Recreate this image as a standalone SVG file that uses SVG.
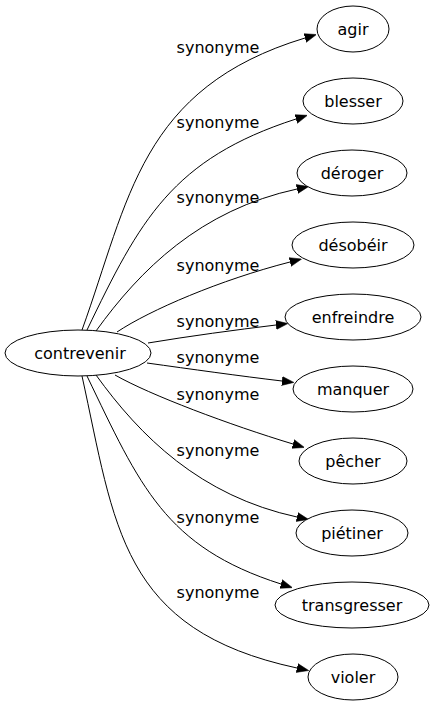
<svg xmlns="http://www.w3.org/2000/svg" width="434" height="707" viewBox="0 0 434 707">
<style>
.node ellipse{fill:#fff;stroke:#000;stroke-width:1}
.node text{font-family:"DejaVu Sans",Verdana,sans-serif;font-size:16px;fill:#000;text-anchor:middle}
.edge path{fill:none;stroke:#000;stroke-width:1;marker-end:url(#arr)}
.lbl{font-family:"DejaVu Sans",Verdana,sans-serif;font-size:16px;fill:#000;text-anchor:middle}
</style>
<defs>
<marker id="arr" markerUnits="userSpaceOnUse" markerWidth="12" markerHeight="10" viewBox="0 0 12 10" refX="0" refY="5" orient="auto">
<path d="M0,0.5 L12,5 L0,9.5 z" fill="#000" stroke="#000" stroke-width="0.5"/>
</marker>
</defs>
<rect width="434" height="707" fill="#fff"/>
<g id="connectors">
<g class="edge"><path d="M82,330 C129,200 140,88 305,38"/><text class="lbl" x="218" y="53">synonyme</text></g>
<g class="edge"><path d="M87,330 C140,220 172,159 296,119"/><text class="lbl" x="218" y="128">synonyme</text></g>
<g class="edge"><path d="M96,331 C140,270 200,210 297,189"/><text class="lbl" x="218" y="203">synonyme</text></g>
<g class="edge"><path d="M117,332 C150,310 220,280 290,262"/><text class="lbl" x="218" y="271">synonyme</text></g>
<g class="edge"><path d="M148,343 C190,336 235,330 276,325"/><text class="lbl" x="218" y="327">synonyme</text></g>
<g class="edge"><path d="M147,363 C190,369 240,376 282,381"/><text class="lbl" x="218" y="363">synonyme</text></g>
<g class="edge"><path d="M115,375 C150,395 230,425 293,444"/><text class="lbl" x="218" y="400">synonyme</text></g>
<g class="edge"><path d="M96,375 C140,436 200,496 297,517"/><text class="lbl" x="218" y="456">synonyme</text></g>
<g class="edge"><path d="M87,376 C140,486 165,547 281,584"/><text class="lbl" x="218" y="523">synonyme</text></g>
<g class="edge"><path d="M82,376 C115,526 120,630 297,668"/><text class="lbl" x="218" y="598">synonyme</text></g>
</g>
<g id="contrevenir" class="node"><ellipse cx="78" cy="353" rx="73" ry="23"/><text x="80" y="359">contrevenir</text></g>
<g id="agir" class="node"><ellipse cx="353" cy="29" rx="36" ry="23"/><text x="353" y="35">agir</text></g>
<g id="blesser" class="node"><ellipse cx="353" cy="101" rx="50" ry="23"/><text x="353" y="107">blesser</text></g>
<g id="deroger" class="node"><ellipse cx="352" cy="173" rx="55" ry="23"/><text x="352" y="179">déroger</text></g>
<g id="desobeir" class="node"><ellipse cx="353" cy="245" rx="61" ry="23"/><text x="353" y="251">désobéir</text></g>
<g id="enfreindre" class="node"><ellipse cx="353" cy="317" rx="68" ry="23"/><text x="353" y="323">enfreindre</text></g>
<g id="manquer" class="node"><ellipse cx="353" cy="389" rx="60" ry="23"/><text x="353" y="395">manquer</text></g>
<g id="pecher" class="node"><ellipse cx="353" cy="461" rx="54" ry="23"/><text x="353" y="467">pêcher</text></g>
<g id="pietiner" class="node"><ellipse cx="352" cy="533" rx="56" ry="23"/><text x="352" y="539">piétiner</text></g>
<g id="transgresser" class="node"><ellipse cx="352" cy="605" rx="77" ry="23"/><text x="352" y="611">transgresser</text></g>
<g id="violer" class="node"><ellipse cx="353" cy="677" rx="45" ry="23"/><text x="353" y="683">violer</text></g>
</svg>
